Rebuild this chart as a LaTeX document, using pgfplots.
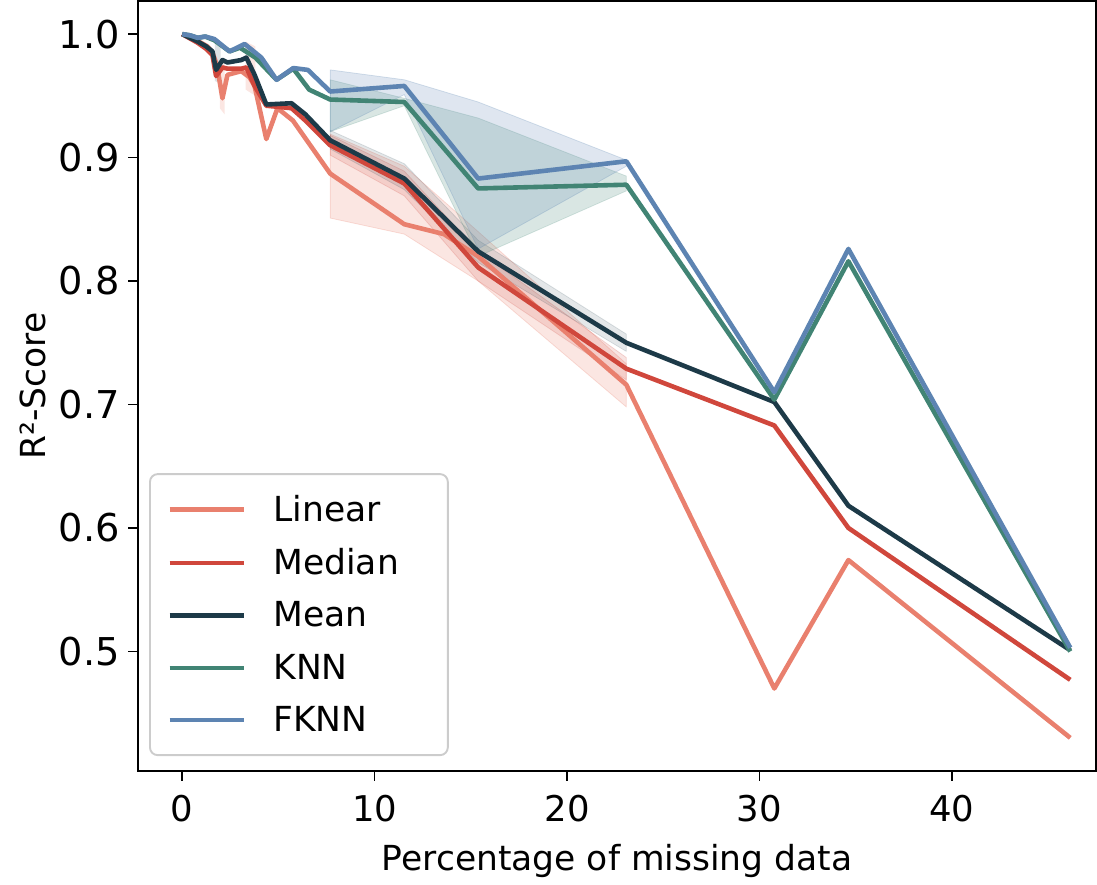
\documentclass[border=0pt]{standalone}
\usepackage{fontspec}
\setmainfont{DejaVu Sans}
\usepackage{pgfplots}
\pgfplotsset{compat=1.18}

\definecolor{clinear}{HTML}{E9806E}
\definecolor{cmedian}{HTML}{D0473C}
\definecolor{cmean}{HTML}{1D3A48}
\definecolor{cknn}{HTML}{418474}
\definecolor{cfknn}{HTML}{5D84B2}

\begin{document}
\begin{tikzpicture}
\begin{axis}[
  scale only axis,
  width=500pt, height=402pt,
  xmin=-2.3, xmax=47.5,
  ymin=0.403, ymax=1.027,
  xtick={0,10,20,30,40},
  ytick={0.5,0.6,0.7,0.8,0.9,1.0},
  /pgf/number format/assume math mode=true,
  xticklabel style={font=\fontsize{18.5}{21}\selectfont, yshift=-4pt},
  yticklabel style={font=\fontsize{20}{22}\selectfont, xshift=-1pt,
    /pgf/number format/.cd, fixed, fixed zerofill, precision=1},
  label style={font=\fontsize{18}{21}\selectfont},
  xlabel={Percentage of missing data},
  ylabel={R²-Score},
  tick align=outside,
  tick pos=left,
  major tick length=5pt,
  every tick/.style={black, line width=0.8pt},
  axis line style={line width=0.8pt},
  xlabel style={yshift=-5pt},
  ylabel style={yshift=0pt},
  legend cell align=left,
  legend style={at={(0.0115,0.0196)}, anchor=south west,
    draw=black!20, line width=1pt, rounded corners=4pt, fill=white,
    font=\fontsize{18}{21}\selectfont,
    inner xsep=9pt, inner ysep=9pt, row sep=8.6pt,
    /tikz/every odd column/.append style={column sep=12pt}},
  legend image code/.code={\draw[#1, line width=2.4pt] (0pt,0pt) -- (39pt,0pt);},
  every axis plot/.append style={line join=round},
]

% ---- confidence bands (upper, then lower reversed) ----
\addplot[forget plot, fill=clinear, fill opacity=0.2, draw=clinear, draw opacity=0.25] coordinates {
  (7.69,0.919) (11.54,0.893) (15.38,0.840) (23.08,0.733)
  (23.08,0.698) (15.38,0.800) (11.54,0.838) (7.69,0.851)} -- cycle;
\addplot[forget plot, fill=cmedian, fill opacity=0.15, draw=cmedian, draw opacity=0.2] coordinates {
  (7.69,0.918) (11.54,0.889) (15.38,0.824) (23.08,0.738)
  (23.08,0.720) (15.38,0.800) (11.54,0.869) (7.69,0.902)} -- cycle;
\addplot[forget plot, fill=cmean, fill opacity=0.12, draw=cmean, draw opacity=0.15] coordinates {
  (7.69,0.922) (11.54,0.895) (15.38,0.833) (23.08,0.757)
  (23.08,0.743) (15.38,0.815) (11.54,0.874) (7.69,0.907)} -- cycle;
\addplot[forget plot, fill=cknn, fill opacity=0.2, draw=cknn, draw opacity=0.2] coordinates {
  (7.69,0.963) (11.54,0.948) (15.38,0.932) (23.08,0.885)
  (23.08,0.873) (15.38,0.820) (11.54,0.942) (7.69,0.921)} -- cycle;
\addplot[forget plot, fill=cfknn, fill opacity=0.2, draw=cfknn, draw opacity=0.25] coordinates {
  (7.69,0.971) (11.54,0.963) (15.38,0.945) (23.08,0.898)
  (23.08,0.893) (15.38,0.826) (11.54,0.951) (7.69,0.921)} -- cycle;
% small early bands
\addplot[forget plot, fill=clinear, fill opacity=0.2, draw=none] coordinates {
  (1.95,0.975) (2.2,0.978) (2.2,0.935) (1.95,0.94)} -- cycle;
\addplot[forget plot, fill=clinear, fill opacity=0.2, draw=none] coordinates {
  (3.3,0.994) (3.8,0.990) (3.8,0.950) (3.3,0.955)} -- cycle;
\addplot[forget plot, fill=cmean, fill opacity=0.15, draw=none] coordinates {
  (1.7,0.993) (2.0,0.990) (2.0,0.960) (1.7,0.962)} -- cycle;

% ---- lines ----
\addplot[clinear, line width=2.4pt] coordinates {
  (0,1.000) (0.63,0.996) (1.31,0.990) (1.57,0.985) (1.80,0.975) (2.09,0.948)
  (2.35,0.967) (3.07,0.970) (3.50,0.965) (3.76,0.958) (4.37,0.915) (4.95,0.940)
  (5.75,0.930) (7.69,0.887) (11.54,0.846) (13.60,0.838) (15.38,0.820)
  (23.08,0.716) (30.77,0.470) (34.62,0.574) (46.15,0.430)};
\addlegendentry{\makebox[80pt][l]{Linear}}
\addplot[cmedian, line width=2.4pt] coordinates {
  (0,1.000) (0.80,0.993) (1.25,0.988) (1.57,0.983) (1.76,0.966) (2.09,0.973)
  (2.35,0.972) (3.07,0.972) (3.33,0.973) (3.76,0.958) (4.37,0.942) (5.68,0.940)
  (6.40,0.930) (7.69,0.910) (11.54,0.879) (15.38,0.811) (23.08,0.729)
  (30.77,0.683) (34.62,0.600) (46.15,0.477)};
\addlegendentry{Median}
\addplot[cmean, line width=2.4pt] coordinates {
  (0,1.000) (0.80,0.994) (1.25,0.990) (1.57,0.986) (1.76,0.971) (2.09,0.979)
  (2.35,0.977) (3.07,0.979) (3.33,0.981) (3.76,0.967) (4.37,0.943) (5.68,0.944)
  (6.40,0.935) (7.69,0.914) (11.54,0.883) (15.38,0.824) (23.08,0.750)
  (30.77,0.702) (34.62,0.618) (46.15,0.501)};
\addlegendentry{Mean}
\addplot[cknn, line width=2.4pt] coordinates {
  (0,1.000) (0.40,0.999) (0.80,0.997) (1.20,0.998) (1.67,0.995) (2.46,0.986)
  (3.00,0.989) (3.80,0.981) (4.90,0.963) (5.77,0.972) (6.60,0.955) (7.69,0.947)
  (11.54,0.945) (15.38,0.875) (23.08,0.878) (30.77,0.704) (34.62,0.816)
  (46.15,0.500)};
\addlegendentry{KNN}
\addplot[cfknn, line width=2.4pt] coordinates {
  (0,1.000) (0.40,0.999) (0.80,0.997) (1.20,0.998) (1.67,0.996) (2.46,0.986)
  (3.24,0.992) (4.11,0.981) (4.90,0.963) (5.77,0.9725) (6.53,0.971) (7.69,0.9535)
  (11.54,0.958) (15.38,0.883) (23.08,0.897) (30.77,0.710) (34.62,0.826)
  (46.15,0.503)};
\addlegendentry{FKNN}
\end{axis}
% whitespace to the left of the y label, as in the reference
\path ([xshift=-72pt]current axis.south west);
\end{tikzpicture}
\end{document}
